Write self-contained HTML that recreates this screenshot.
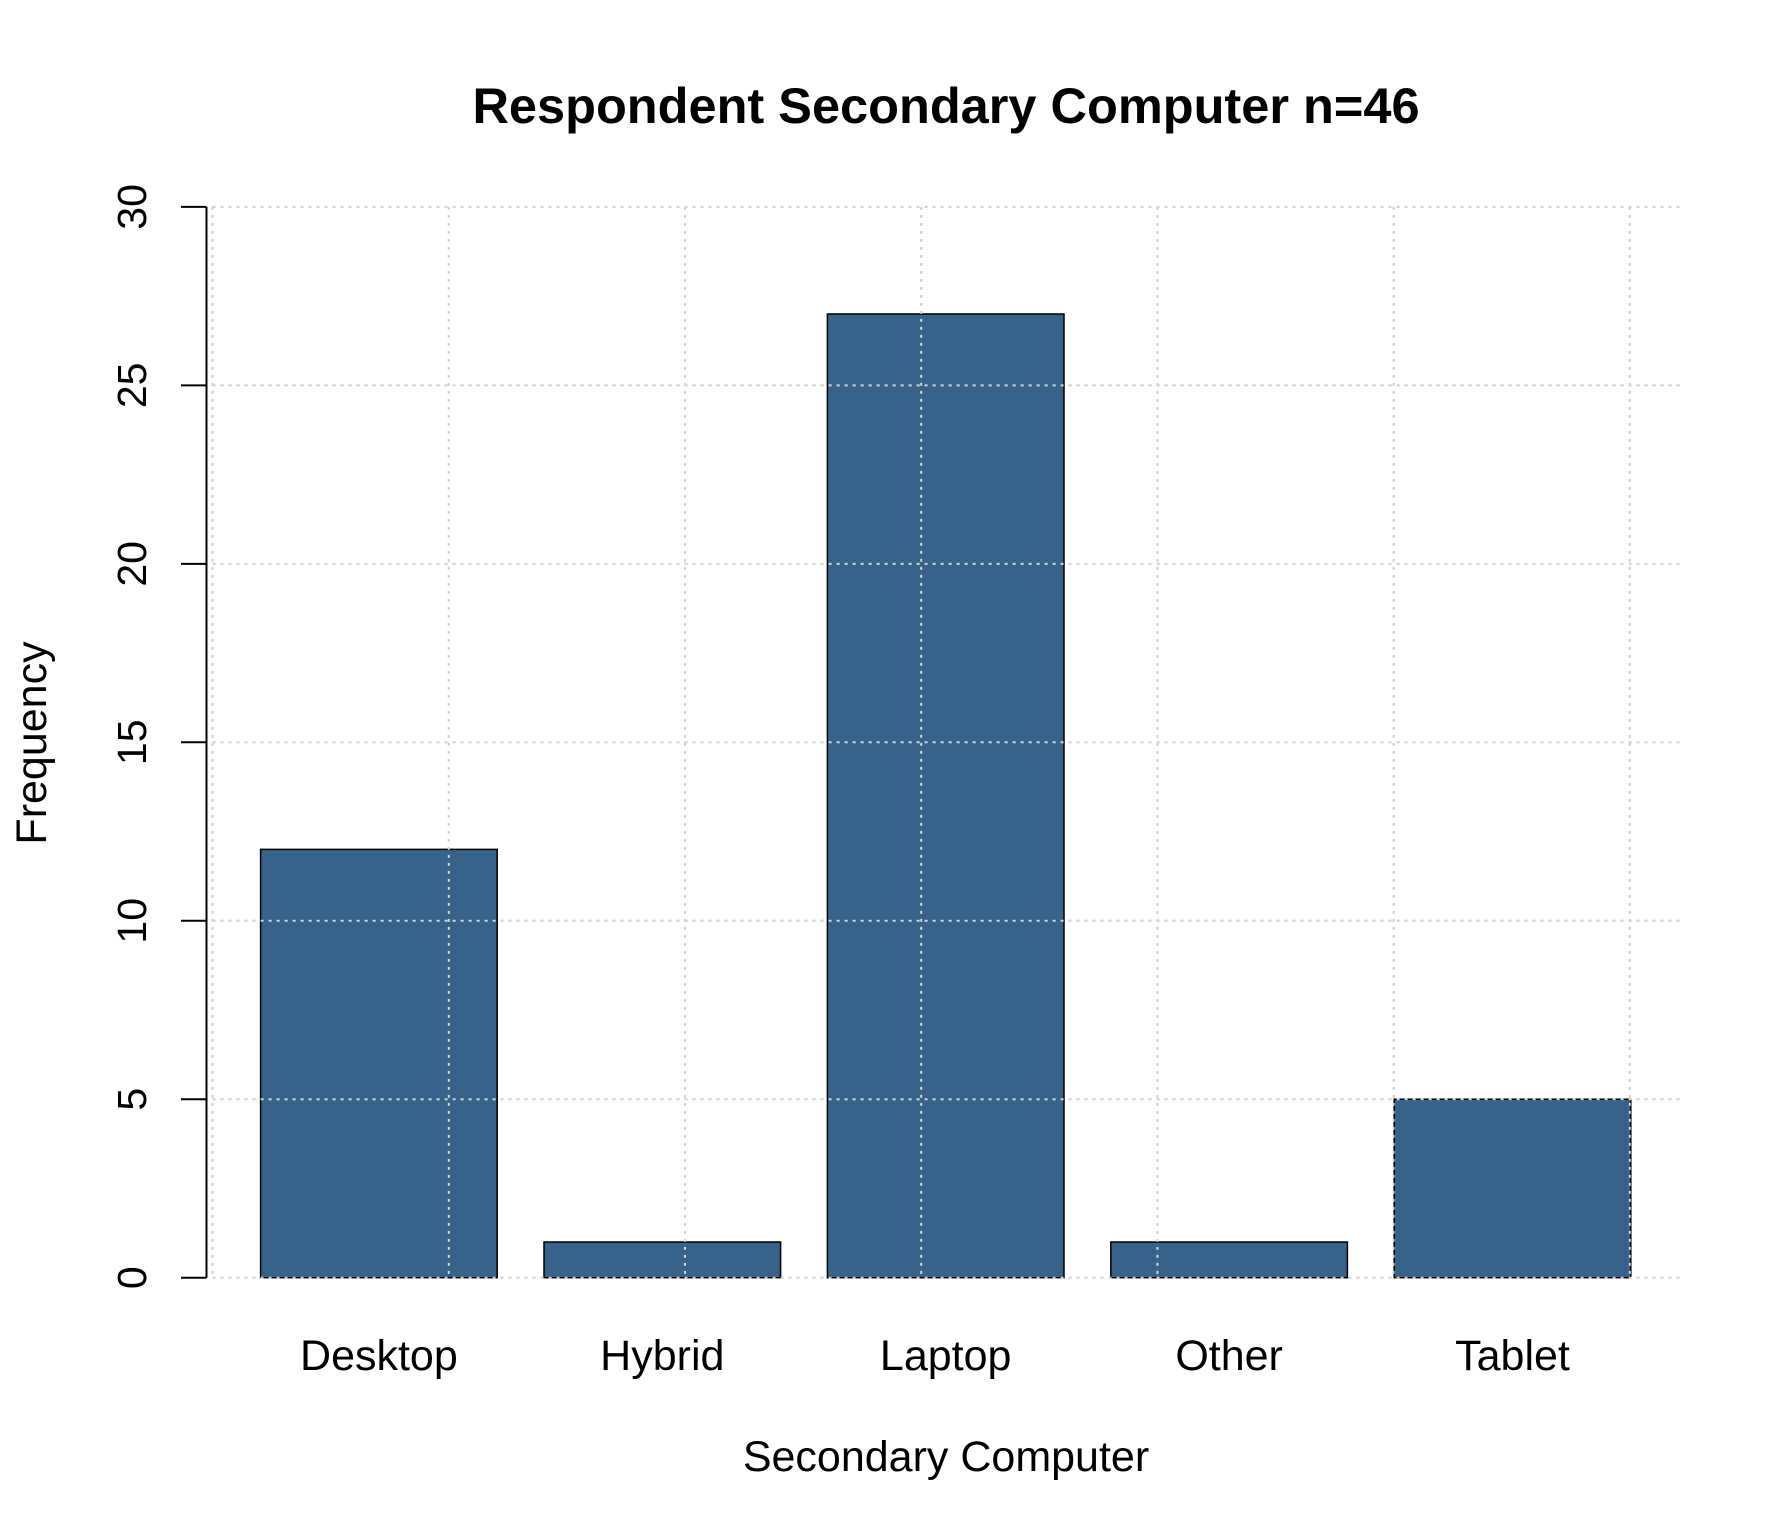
<!DOCTYPE html>
<html><head><meta charset="utf-8"><style>
html,body{margin:0;padding:0;background:#fff;}
svg{display:block;font-family:"Liberation Sans",Arial,sans-serif;}
</style></head><body>
<svg id="chart" width="1792" height="1536" viewBox="0 0 1792 1536" xmlns="http://www.w3.org/2000/svg">
<rect x="0" y="0" width="1792" height="1536" fill="#fff"/>
<text x="946" y="123" font-size="50.5" font-weight="bold" text-anchor="middle">Respondent Secondary Computer n=46</text>
<text x="946" y="1471" font-size="43" text-anchor="middle">Secondary Computer</text>
<text transform="translate(46,743) rotate(-90)" font-size="43" text-anchor="middle">Frequency</text>
<g id="grid"></g>
<g id="bars"></g>
<g id="axis"></g>
</svg>
<script>
const categories = ["Desktop","Hybrid","Laptop","Other","Tablet"];
const values = [12,1,27,1,5];
const yTicks = [0,5,10,15,20,25,30];

const NS = "http://www.w3.org/2000/svg";
const y0 = 1277.7, yTop = 206.9, yMax = 30;
const yScale = v => y0 - (v / yMax) * (y0 - yTop);
const barLeft0 = 260.6, barStep = 283.4, barW = 236.6;
const xBar = i => barLeft0 + i * barStep;
function mk(tag, attrs, parent){const e=document.createElementNS(NS,tag);for(const k in attrs)e.setAttribute(k,attrs[k]);parent.appendChild(e);return e;}

const grid = document.getElementById('grid');
yTicks.forEach(t=>{
  const l = mk('line',{x1:212.6,x2:1680,y1:yScale(t),y2:yScale(t),stroke:'#d3d3d3','stroke-width':2,'stroke-dasharray':'3 5'},grid);
  
  
});
for(let i=0;i<7;i++){
  const x = 212.6 + i*236.2;
  const l = mk('line',{x1:x,x2:x,y1:yTop,y2:y0,stroke:'#d3d3d3','stroke-width':2,'stroke-dasharray':'3 5'},grid);
  
  
}

const bars = document.getElementById('bars');
values.forEach((v,i)=>{
  const r = mk('rect',{x:xBar(i),y:yScale(v),width:barW,height:y0-yScale(v),fill:'#37638a',stroke:'#000','stroke-width':1.5},bars);
  
  
  const t = mk('text',{x:xBar(i)+barW/2,y:1370,'font-size':43,'text-anchor':'middle'},bars);
  t.textContent = categories[i];
  
  
});
for(let i=0;i<7;i++){
  const x = 212.6 + i*236.2;
  const l = mk('line',{x1:x,x2:x,y1:yTop,y2:y0,stroke:'#d3d3d3','stroke-width':2,'stroke-dasharray':'3 5'},bars);
  
  
}
yTicks.forEach(t=>{
  const l = mk('line',{x1:212.6,x2:1680,y1:yScale(t),y2:yScale(t),stroke:'#d3d3d3','stroke-width':2,'stroke-dasharray':'3 5'},bars);
  
  
});

const axis = document.getElementById('axis');
const al = mk('line',{x1:206.5,x2:206.5,y1:yScale(yTicks[yTicks.length-1]),y2:yScale(yTicks[0]),stroke:'#000','stroke-width':2},axis);


yTicks.forEach(t=>{
  const tk = mk('line',{x1:181,x2:206.5,y1:yScale(t),y2:yScale(t),stroke:'#000','stroke-width':2},axis);
  
  
  const lb = mk('text',{transform:`translate(146,${yScale(t)}) rotate(-90)`,'font-size':41,'text-anchor':'middle'},axis);
  lb.textContent = t;
  
  
});
</script>
</body></html>
